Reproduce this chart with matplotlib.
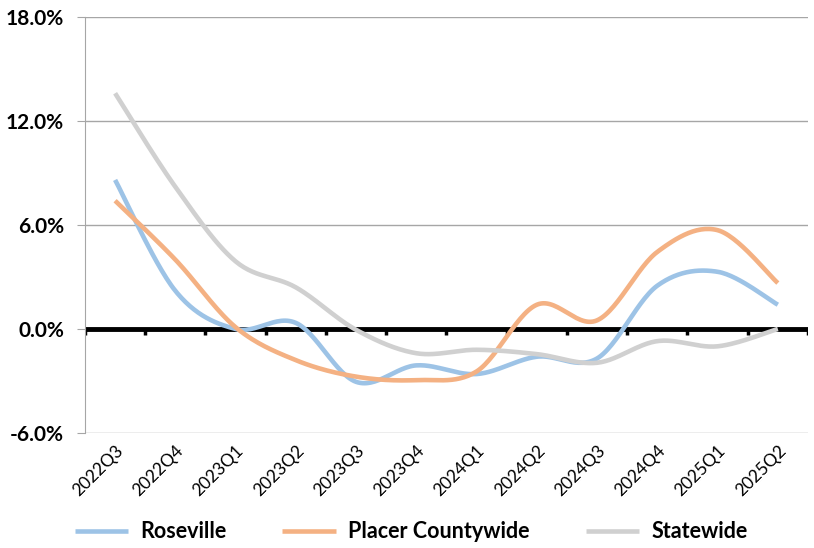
import matplotlib.pyplot as plt
import numpy as np

quarters = ['2022Q3', '2022Q4', '2023Q1', '2023Q2', '2023Q3', '2023Q4',
            '2024Q1', '2024Q2', '2024Q3', '2024Q4', '2025Q1', '2025Q2']
roseville = [8.6, 2.2, 0.0, 0.35, -3.05, -2.1, -2.6, -1.6, -1.7, 2.5, 3.3, 1.4]
placer = [7.4, 4.0, 0.1, -1.8, -2.75, -2.95, -2.45, 1.4, 0.5, 4.45, 5.7, 2.65]
statewide = [13.6, 8.2, 3.9, 2.4, -0.05, -1.4, -1.2, -1.45, -1.95, -0.7, -1.0, 0.0]

series = [('Roseville', roseville, '#9DC3E6'),
          ('Placer Countywide', placer, '#F4B183'),
          ('Statewide', statewide, '#D0D0D0')]

plt.rcParams['font.family'] = ['Lato', 'DejaVu Sans']


def smooth(xs, ys, n=30):
    # spreadsheet-style smoothed line: cubic Bezier through each pair of points
    xs = np.asarray(xs, float)
    ys = np.asarray(ys, float)
    px = np.concatenate([[xs[0]], xs, [xs[-1]]])
    py = np.concatenate([[ys[0]], ys, [ys[-1]]])
    t = np.linspace(0, 1, n)[:, None]
    out_x, out_y = [], []
    for i in range(1, len(px) - 2):
        p0 = np.array([px[i], py[i]])
        p3 = np.array([px[i + 1], py[i + 1]])
        c1 = p0 + (np.array([px[i + 1], py[i + 1]]) - np.array([px[i - 1], py[i - 1]])) / 6
        c2 = p3 - (np.array([px[i + 2], py[i + 2]]) - p0) / 6
        b = ((1 - t) ** 3 * p0 + 3 * (1 - t) ** 2 * t * c1
             + 3 * (1 - t) * t ** 2 * c2 + t ** 3 * p3)
        out_x.append(b[:, 0])
        out_y.append(b[:, 1])
    return np.concatenate(out_x), np.concatenate(out_y)


fig = plt.figure(figsize=(8.14, 5.48), dpi=100)
ax = fig.add_axes([0.1044, 0.2099, 0.8882, 0.7591])

x = np.arange(len(quarters))
for name, vals, color in series:
    sx, sy = smooth(x, vals)
    ax.plot(sx, sy, color=color, lw=3.3, label=name, solid_capstyle='butt', zorder=3)

ax.set_xlim(-0.5, len(quarters) - 0.5)
ax.set_ylim(-6, 18)
ax.set_yticks(np.arange(-6, 19, 6))
ax.set_yticklabels([f'{v:.1f}%' for v in np.arange(-6, 19, 6)],
                   fontsize=15, fontweight='bold')
ax.grid(axis='y', color='#A6A6A6', lw=1)
ax.set_axisbelow(True)

ax.set_xticks(x)
ax.set_xticklabels(quarters, rotation=45, ha='right', va='top',
                   rotation_mode='anchor', fontsize=12.5)
ax.tick_params(axis='x', length=0, pad=7)
ax.tick_params(axis='y', length=6, color='#A6A6A6', pad=9)

for side in ['top', 'right', 'bottom']:
    ax.spines[side].set_visible(False)
ax.spines['left'].set_color('#A6A6A6')

# zero axis with category ticks
ax.axhline(0, color='black', lw=3.5, zorder=2)
bounds = np.arange(len(quarters) + 1) - 0.5
ax.vlines(bounds, -0.35, 0, color='black', lw=2.5, zorder=2)

fig.legend(loc='lower center', bbox_to_anchor=(0.505, -0.025), ncol=3,
           frameon=False, handlelength=2.5, columnspacing=2.6, handletextpad=0.55,
           prop={'weight': 'bold', 'size': 15.5})

fig.savefig('out.png', dpi=100)
